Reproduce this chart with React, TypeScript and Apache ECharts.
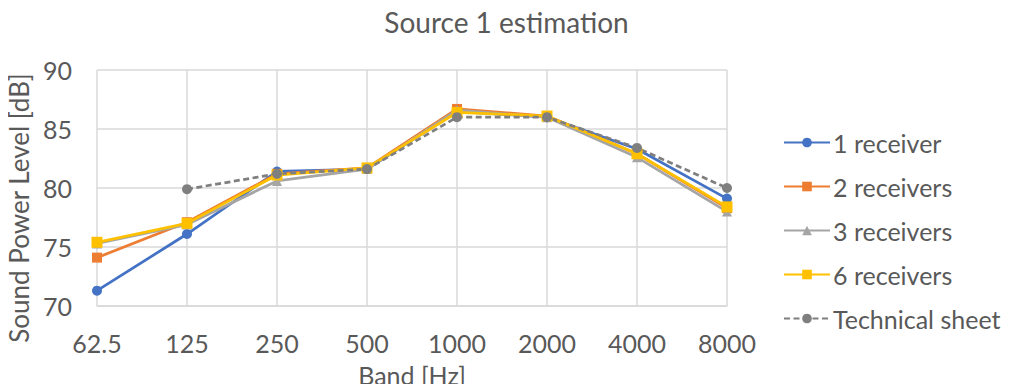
import React, { useEffect, useRef } from "react";
import * as echarts from "echarts";

const bands = ["62.5", "125", "250", "500", "1000", "2000", "4000", "8000"];
const oneReceiver = [71.3, 76.1, 81.4, 81.6, 86.5, 86.0, 83.3, 79.1];
const twoReceivers = [74.1, 77.1, 81.2, 81.7, 86.7, 86.1, 82.9, 78.3];
const threeReceivers = [75.3, 76.9, 80.6, 81.6, 86.6, 86.0, 82.6, 78.0];
const sixReceivers = [75.4, 77.0, 81.1, 81.7, 86.4, 86.1, 82.9, 78.4];
const technicalSheet = [null, 79.9, 81.2, 81.6, 86.0, 86.0, 83.4, 80.0];

const FONT = "Lato";
const TXT = "#595959";

export default function App() {
  const ref = useRef<HTMLDivElement>(null);
  useEffect(() => {
    const chart = echarts.init(ref.current!, null, { renderer: "svg" });
    const mk = (name: string, data: any[], color: string, symbol: string, size: number, dashed = false) => ({
      name,
      type: "line",
      data,
      symbol,
      symbolSize: size,
      showSymbol: true,
      connectNulls: false,
      lineStyle: { color, width: 2.75, type: dashed ? [6, 3.5] : "solid" },
      itemStyle: { color },
      emphasis: { disabled: true },
    });
    chart.setOption({
      animation: false,
      textStyle: { fontFamily: FONT },
      title: {
        text: "Source 1 estimation",
        left: "center",
        top: 3,
        textStyle: { fontFamily: FONT, fontSize: 28, fontWeight: "normal", color: TXT },
      },
      grid: { left: 97, right: 286, top: 70, bottom: 86, containLabel: false, outerBoundsMode: "none" },
      legend: {
        orient: "vertical",
        left: 783,
        top: 130,
        padding: 0,
        itemWidth: 46,
        itemHeight: 12,
        itemGap: 19,
        textStyle: { fontFamily: FONT, fontSize: 25, color: TXT, padding: [0, 0, 0, -2] },
        data: ["1 receiver", "2 receivers", "3 receivers", "6 receivers", "Technical sheet"],
      },
      xAxis: {
        type: "category",
        data: bands,
        boundaryGap: false,
        name: "Band [Hz]",
        nameLocation: "middle",
        nameGap: 56,
        nameTextStyle: { fontFamily: FONT, fontSize: 25, color: TXT },
        axisLine: { lineStyle: { color: "#d9d9d9", width: 1.5 } },
        axisTick: { show: false },
        axisLabel: { fontFamily: FONT, fontSize: 25, color: TXT, margin: 24 },
        splitLine: { show: true, lineStyle: { color: "#d9d9d9", width: 1.5 } },
      },
      yAxis: {
        type: "value",
        min: 70,
        max: 90,
        interval: 5,
        name: "Sound Power Level [dB]",
        nameLocation: "middle",
        nameGap: 63,
        nameTextStyle: { fontFamily: FONT, fontSize: 26, color: TXT, padding: [0, 40, 0, 0] },
        axisLine: { show: false },
        axisTick: { show: false },
        axisLabel: { fontFamily: FONT, fontSize: 25, color: TXT, margin: 25 },
        splitLine: { show: true, lineStyle: { color: "#d9d9d9", width: 1.5 } },
      },
      series: [
        mk("1 receiver", oneReceiver, "#4472c4", "circle", 10),
        mk("2 receivers", twoReceivers, "#ed7d31", "rect", 10),
        mk("3 receivers", threeReceivers, "#a5a5a5", "triangle", 10),
        mk("6 receivers", sixReceivers, "#ffc000", "rect", 11),
        mk("Technical sheet", technicalSheet, "#7f7f7f", "circle", 10, true),
      ],
    });
    return () => chart.dispose();
  }, []);
  return <div ref={ref} style={{ width: 1013, height: 392, margin: -8 }} />;
}
